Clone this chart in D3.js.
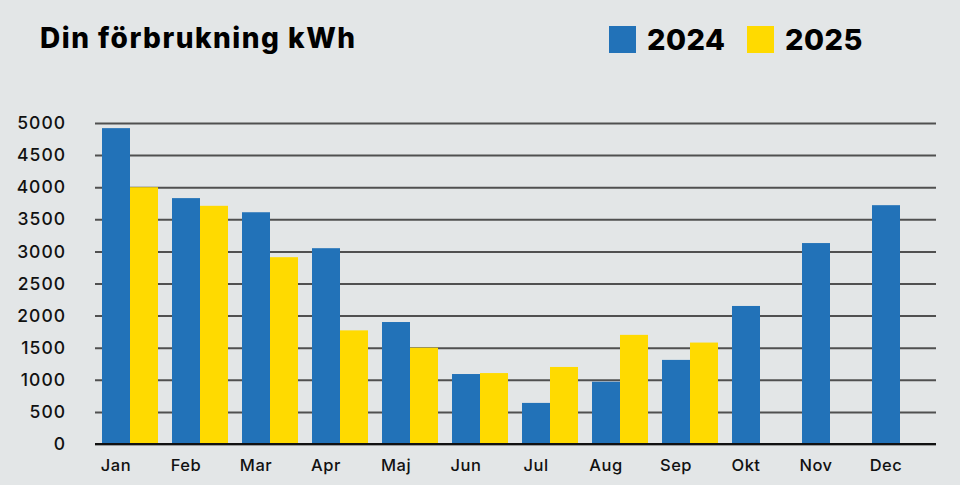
<!DOCTYPE html>
<html><head><meta charset="utf-8">
<script src="https://cdn.jsdelivr.net/npm/d3@7"></script>
<style>
html,body{margin:0;padding:0;background:#e3e6e7;}
svg{display:block;}
</style></head>
<body>
<svg id="c" width="960" height="485"></svg>
<script>
const months = ["Jan","Feb","Mar","Apr","Maj","Jun","Jul","Aug","Sep","Okt","Nov","Dec"];
const series = ["2024","2025"];
const values2024 = [4920,3830,3610,3050,1900,1090,640,970,1310,2150,3130,3720];
const values2025 = [4000,3710,2910,1770,1500,1105,1200,1700,1580,null,null,null];
const yTicks = [0,500,1000,1500,2000,2500,3000,3500,4000,4500,5000];
const colors = ["#2272b8","#ffda00"];

const svg = d3.select("#c");
svg.append("rect").attr("width",960).attr("height",485).attr("fill","#e3e6e7");

const x = d3.scaleBand().domain(months).range([95,935]).paddingInner(0.2).paddingOuter(0.1);
const xs = d3.scaleBand().domain(series).range([0,x.bandwidth()]);
const y = d3.scaleLinear().domain([0,5000]).range([444,123]);

// gridlines
const yAxis = d3.axisLeft(y).tickValues(yTicks).tickSize(-(936-95)).tickFormat(d=>d);
const ga = svg.append("g").attr("transform","translate(95,0)").call(yAxis);
ga.select(".domain").remove();
ga.selectAll(".tick line").attr("stroke","#505050").attr("stroke-width",2);
ga.selectAll(".tick text").attr("x",-29).attr("fill","#111")
  .style("font-family","Inter, 'Liberation Sans', sans-serif").style("font-size","17.5px").style("font-weight","500").style("letter-spacing","1px");

// bars
const data = months.map((m,i)=>({m, vals:[values2024[i],values2025[i]]}));
const g = svg.append("g");
data.forEach(d=>{
  d.vals.forEach((v,j)=>{
    if(v==null) return;
    g.append("rect")
      .attr("x", x(d.m)+xs(series[j]))
      .attr("y", y(v))
      .attr("width", xs.bandwidth())
      .attr("height", y(0)-y(v))
      .attr("fill", colors[j]);
  });
});

// baseline
svg.append("line").attr("x1",95).attr("x2",936).attr("y1",y(0)).attr("y2",y(0)).attr("stroke","#111").attr("stroke-width",2);

// x labels, centred on the first bar of each group
const xAxis = d3.axisBottom(x).tickSize(0).tickPadding(15);
const gx = svg.append("g").attr("transform",`translate(${-(x.bandwidth()/2 - xs.bandwidth()/2)},${y(0)})`).call(xAxis);
gx.select(".domain").remove();
gx.selectAll(".tick text").attr("fill","#111")
  .style("font-family","Inter, 'Liberation Sans', sans-serif").style("font-size","16.5px").style("font-weight","500").style("letter-spacing","0.5px");

// title
svg.append("text").attr("x",40).attr("y",48).text("Din förbrukning kWh")
  .attr("fill","#000").style("font-family","Inter, sans-serif").style("font-size","28px").style("font-weight","800").style("letter-spacing","1.5px");

// legend
const legX = [609,747];
series.forEach((s,j)=>{
  svg.append("rect").attr("x",legX[j]).attr("y",26).attr("width",27).attr("height",27).attr("fill",colors[j]);
  svg.append("text").attr("x",legX[j]+38).attr("y",50).text(s)
    .attr("fill","#000").style("font-family","Inter, sans-serif").style("font-size","29px").style("font-weight","800").style("letter-spacing","0.5px");
});
</script>
</body></html>
